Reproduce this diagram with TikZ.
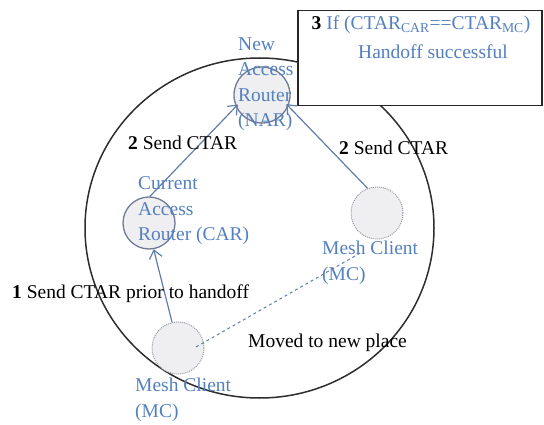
\documentclass[tikz,border=0pt]{standalone}
\usepackage{fontspec}
\setmainfont{Liberation Serif}
\usetikzlibrary{arrows.meta}

\definecolor{labelblue}{RGB}{84,128,192}
\definecolor{linkblue}{RGB}{96,126,172}
\definecolor{nodefill}{RGB}{239,239,241}
\definecolor{routeredge}{RGB}{112,124,150}
\definecolor{clientedge}{RGB}{150,154,164}
\definecolor{rim}{RGB}{45,45,45}

\tikzset{
  txt/.style={font=\fontsize{19.5}{25.5}\selectfont, inner sep=0pt},
  bluetxt/.style={txt, text=labelblue},
  router/.style={circle, draw=routeredge, line width=1.3pt, fill=nodefill,
                 minimum size=52pt, inner sep=0pt},
  client/.style={circle, draw=clientedge, densely dotted, line width=1pt,
                 fill=nodefill, minimum size=52pt, inner sep=0pt},
  link/.style={draw=linkblue, line width=1.2pt,
               -{Straight Barb[length=8pt,width=13pt]}},
  moved/.style={draw=linkblue, line width=1pt, dashed},
}

\begin{document}
\begin{tikzpicture}[x=1pt,y=-1pt]
  \useasboundingbox (0,0) rectangle (544,425);

  % coverage area of the mesh network
  \draw[rim, line width=1.5pt] (259.5,228) ellipse [x radius=174.5pt, y radius=170pt];

  % result box (covers the rim behind it)
  \node[draw=black!85, line width=1.5pt, fill=white, minimum width=244pt,
        minimum height=95pt, inner sep=0pt, anchor=north west] (result) at (297,10) {};

  % routers and clients
  \node[router, minimum size=56pt] (nar) at (262,95) {};
  \node[router] (car) at (149,223) {};
  \node[client] (mcold) at (178,348) {};
  \node[client] (mcnew) at (377,213) {};

  % labels of routers and clients
  \node[bluetxt, align=left, anchor=west] (nartxt) at (238,84)
    {New\\Access\\Router\\(NAR)};
  \node[bluetxt, align=left, anchor=west] (cartxt) at (138,211)
    {Current\\Access\\Router (CAR)};
  \node[bluetxt, align=left, anchor=west] (mcoldtxt) at (135,400)
    {Mesh Client\\(MC)};
  \node[bluetxt, align=left, anchor=west] (mcnewtxt) at (322,263)
    {Mesh Client\\(MC)};

  % message flow
  \draw[link] (mcold.103) -- (car.280);
  \draw[link, shorten >=-3pt] (car.88) -- (nar.204);
  \draw[link, shorten >=-3pt] (mcnew.111) -- (nar.337);

  % movement of the client
  \coordinate (moveend) at (362,252);
  \draw[moved, shorten <=-9pt] (mcold.12) -- (moveend);

  % step captions
  \node[txt, anchor=west] (s1) at (12,294) {\textbf{1} Send CTAR prior to handoff};
  \node[txt, anchor=west] (s2a) at (128,143) {\textbf{2} Send CTAR};
  \node[txt, anchor=west] (s2b) at (339,148) {\textbf{2} Send CTAR};
  \node[txt, anchor=west] (mv) at (248,343) {Moved to new place};

  % result text
  \node[bluetxt] (r1) at (421,25)
    {{\color{black}\textbf{3}} If (CTAR\textsubscript{CAR}==CTAR\textsubscript{MC})};
  \node[bluetxt] (r2) at (433,52) {Handoff successful};
\end{tikzpicture}
\end{document}
